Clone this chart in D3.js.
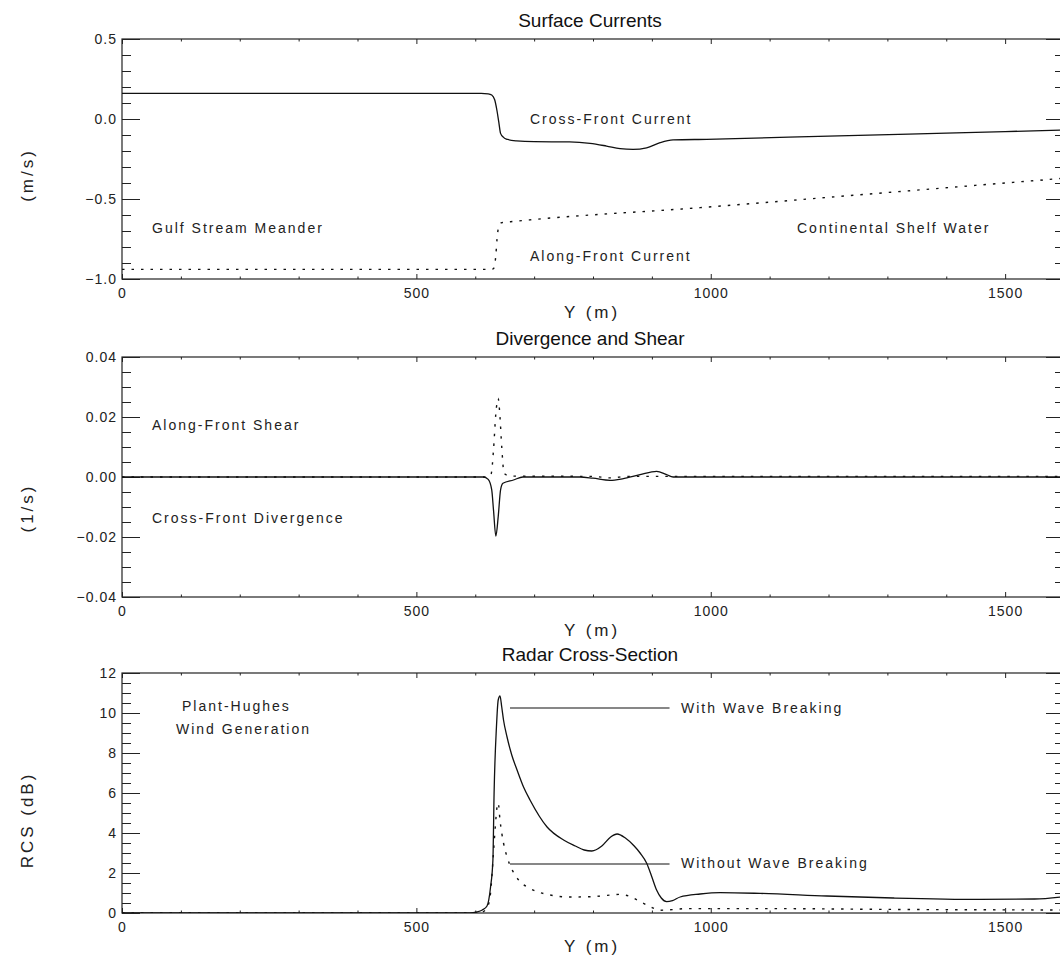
<!DOCTYPE html>
<html>
<head>
<meta charset="utf-8">
<script src="https://cdn.jsdelivr.net/npm/d3@7"></script>
<style>
  html, body { margin: 0; padding: 0; background: #fff; }
  svg { display: block; }
  .tick text { font-family: "Liberation Sans", Arial, sans-serif; font-size: 14px; letter-spacing: 1px; fill: #222; }
  .tick line { stroke: #222; stroke-width: 1; }
  .note { font-family: "Liberation Sans", Arial, sans-serif; font-size: 14px; letter-spacing: 2px; fill: #222; }
  .axlabel { font-family: "Liberation Sans", Arial, sans-serif; font-size: 17px; letter-spacing: 3px; fill: #222; }
  .ptitle { font-family: "Liberation Sans", Arial, sans-serif; font-size: 19px; fill: #111; }
</style>
</head>
<body>
<svg id="fig" width="1060" height="957"></svg>
<script>
// ---- Cross-track distance (m) ----
const yDomain = [0, 1600];
const xMajorTicks = [0, 500, 1000, 1500];

// ---- Surface currents (m/s) ----
const crossFrontY = [0, 610, 622, 628, 633, 637, 640, 643, 648, 655, 670, 700, 760, 795, 823, 846, 868, 891, 914, 936, 993, 1200, 1400, 1600];
const crossFrontV = [0.16, 0.16, 0.157, 0.15, 0.12, 0.05, -0.02, -0.09, -0.115, -0.128, -0.137, -0.142, -0.143, -0.152, -0.169, -0.185, -0.19, -0.18, -0.148, -0.131, -0.127, -0.107, -0.088, -0.069];
const alongFrontY = [0, 628, 632, 635, 637, 640, 645, 660, 700, 982, 1265, 1600];
const alongFrontV = [-0.94, -0.94, -0.93, -0.85, -0.75, -0.67, -0.648, -0.642, -0.628, -0.554, -0.47, -0.37];
const currentTicks = [-1.0, -0.5, 0.0, 0.5];

// ---- Divergence and shear (1/s) ----
const divergenceY = [0, 614, 622, 628, 631, 635, 639, 643, 647, 665, 681, 778, 800, 829, 850, 880, 908, 925, 936, 1600];
const divergenceV = [0, 0, -0.0008, -0.0043, -0.011, -0.0197, -0.0132, -0.0043, -0.0021, -0.001, 0, 0, -0.0004, -0.0011, -0.0006, 0.0008, 0.0019, 0.0008, 0, 0];
const shearY = [0, 622, 627, 631, 635, 639, 642, 645, 649, 659, 800, 829, 860, 1600];
const shearV = [0, 0, 0.001, 0.009, 0.0212, 0.0262, 0.02, 0.01, 0.0012, 0.0003, 0.0002, -0.0003, 0.0002, 0.0002];
const shearTicks = [-0.04, -0.02, 0.0, 0.02, 0.04];

// ---- Radar cross-section (dB) ----
const rcsBreakY = [0, 590, 603, 612, 620, 626, 630, 632, 636, 639, 642, 645, 648, 654, 662, 671, 682, 693, 722, 750, 770, 785, 798, 815, 830, 841, 855, 870, 880, 891, 900, 908, 916, 925, 935, 948, 982, 1016, 1084, 1197, 1310, 1457, 1550, 1600];
const rcsBreakV = [0, 0, 0.05, 0.15, 0.35, 1.3, 2.65, 6.0, 9.3, 10.65, 10.85, 10.3, 9.65, 8.8, 7.9, 7.15, 6.3, 5.65, 4.3, 3.65, 3.35, 3.15, 3.1, 3.35, 3.8, 3.95, 3.75, 3.35, 3.0, 2.5, 1.8, 1.15, 0.75, 0.57, 0.62, 0.8, 0.95, 1.02, 0.98, 0.85, 0.75, 0.68, 0.7, 0.82];
const rcsNoBreakY = [0, 600, 612, 620, 626, 630, 634, 637, 639, 642, 648, 654, 662, 676, 693, 722, 761, 800, 830, 846, 865, 880, 897, 914, 930, 960, 1100, 1300, 1600];
const rcsNoBreakV = [0, 0, 0.05, 0.25, 1.0, 2.6, 4.3, 5.3, 5.5, 4.65, 3.5, 2.8, 2.2, 1.57, 1.23, 0.93, 0.8, 0.82, 0.9, 0.93, 0.8, 0.57, 0.32, 0.14, 0.16, 0.22, 0.22, 0.18, 0.15];
const rcsTicks = [0, 2, 4, 6, 8, 10, 12];

const svg = d3.select("#fig");
const x = d3.scaleLinear().domain(yDomain).range([122, 1064]);

function pairs(xs, vs) { return xs.map((d, i) => [d, vs[i]]); }

function panel(opts) {
  const y = d3.scaleLinear().domain(opts.domain).range([opts.bottom, opts.top]);
  const g = svg.append("g");
  const [x0, x1] = x.range();

  // frame
  g.append("rect")
    .attr("x", x0).attr("y", opts.top)
    .attr("width", x1 - x0).attr("height", opts.bottom - opts.top)
    .attr("fill", "none").attr("stroke", "#222").attr("stroke-width", 1.2);

  const minorX = d3.range(0, 1601, 100).filter(v => v % 500 !== 0);
  const minorY = opts.minor;

  // bottom axis with labels
  g.append("g").attr("transform", `translate(0,${opts.bottom})`)
    .call(d3.axisBottom(x).tickValues(xMajorTicks).tickSize(-5).tickPadding(9).tickFormat(d3.format("d")));
  g.append("g").attr("transform", `translate(0,${opts.bottom})`)
    .call(d3.axisBottom(x).tickValues(minorX).tickSize(-2.5).tickFormat(""));
  // top axis, ticks only
  g.append("g").attr("transform", `translate(0,${opts.top})`)
    .call(d3.axisTop(x).tickValues(xMajorTicks).tickSize(-5).tickFormat(""));
  g.append("g").attr("transform", `translate(0,${opts.top})`)
    .call(d3.axisTop(x).tickValues(minorX).tickSize(-2.5).tickFormat(""));
  // left axis with labels
  g.append("g").attr("transform", `translate(${x0},0)`)
    .call(d3.axisLeft(y).tickValues(opts.ticks).tickSize(-18).tickPadding(5).tickFormat(d3.format(opts.fmt)));
  g.append("g").attr("transform", `translate(${x0},0)`)
    .call(d3.axisLeft(y).tickValues(minorY).tickSize(-9).tickFormat(""));
  // right axis, ticks only
  g.append("g").attr("transform", `translate(${x1},0)`)
    .call(d3.axisRight(y).tickValues(opts.ticks).tickSize(-18).tickFormat(""));
  g.append("g").attr("transform", `translate(${x1},0)`)
    .call(d3.axisRight(y).tickValues(minorY).tickSize(-9).tickFormat(""));
  g.selectAll(".domain").remove();

  // titles
  g.append("text").attr("class", "ptitle")
    .attr("x", 590).attr("y", opts.top - 12).attr("text-anchor", "middle").text(opts.title);
  g.append("text").attr("class", "axlabel")
    .attr("x", 592).attr("y", opts.bottom + 39).attr("text-anchor", "middle").text("Y (m)");
  g.append("text").attr("class", "axlabel")
    .attr("transform", `translate(33,${opts.ylabelY}) rotate(-90)`)
    .attr("text-anchor", "middle").text(opts.ylabel);

  const line = d3.line().x(d => x(d[0])).y(d => y(d[1])).curve(d3.curveMonotoneX);
  const clipId = "clip" + opts.title.replace(/\W/g, "");
  g.append("clipPath").attr("id", clipId).append("rect")
    .attr("x", x0).attr("y", opts.top).attr("width", x1 - x0).attr("height", opts.bottom - opts.top);
  const plot = g.append("g").attr("clip-path", `url(#${clipId})`);
  opts.series.forEach(s => {
    plot.append("path").datum(s.data)
      .attr("d", line)
      .attr("fill", "none")
      .attr("stroke", "#111")
      .attr("stroke-width", s.dotted ? 1.4 : 1.3)
      .attr("stroke-dasharray", s.dotted ? "2.5,7" : null);
  });
  return { g, y };
}

// Panel 1: surface currents
const p1 = panel({
  title: "Surface Currents", top: 39, bottom: 279, domain: [-1, 0.5],
  ticks: currentTicks, minor: d3.range(-10, 6).map(v => v / 10).filter(v => Math.abs(v * 2 - Math.round(v * 2)) > 1e-6),
  fmt: ".1f", ylabel: "(m/s)", ylabelY: 175,
  series: [
    { data: pairs(crossFrontY, crossFrontV) },
    { data: pairs(alongFrontY, alongFrontV), dotted: true }
  ]
});
[["Cross-Front Current", 530, 124], ["Along-Front Current", 530, 261],
 ["Gulf Stream Meander", 152, 233], ["Continental Shelf Water", 797, 233]]
  .forEach(([t, tx, ty]) => p1.g.append("text").attr("class", "note").attr("x", tx).attr("y", ty).text(t));

// Panel 2: divergence and shear
const p2 = panel({
  title: "Divergence and Shear", top: 357, bottom: 597, domain: [-0.04, 0.04],
  ticks: shearTicks, minor: d3.range(-8, 9).filter(v => v % 4 !== 0).map(v => v * 0.005),
  fmt: ".2f", ylabel: "(1/s)", ylabelY: 508,
  series: [
    { data: pairs(divergenceY, divergenceV) },
    { data: pairs(shearY, shearV), dotted: true }
  ]
});
[["Along-Front Shear", 152, 430], ["Cross-Front Divergence", 152, 523]]
  .forEach(([t, tx, ty]) => p2.g.append("text").attr("class", "note").attr("x", tx).attr("y", ty).text(t));

// Panel 3: radar cross-section
const p3 = panel({
  title: "Radar Cross-Section", top: 673, bottom: 913, domain: [0, 12],
  ticks: rcsTicks, minor: d3.range(0, 25).filter(v => v % 4 !== 0).map(v => v * 0.5),
  fmt: "d", ylabel: "RCS (dB)", ylabelY: 820,
  series: [
    { data: pairs(rcsBreakY, rcsBreakV) },
    { data: pairs(rcsNoBreakY, rcsNoBreakV), dotted: true }
  ]
});
[["Plant-Hughes", 182, 711], ["Wind Generation", 176, 734],
 ["With Wave Breaking", 681, 713], ["Without Wave Breaking", 681, 868]]
  .forEach(([t, tx, ty]) => p3.g.append("text").attr("class", "note").attr("x", tx).attr("y", ty).text(t));
// leader lines to the two curves
[[10.25, 659], [2.45, 659]].forEach(([v, start]) => {
  p3.g.append("line")
    .attr("x1", x(start)).attr("x2", x(930))
    .attr("y1", p3.y(v)).attr("y2", p3.y(v))
    .attr("stroke", "#111").attr("stroke-width", 1.1);
});
</script>
</body>
</html>
